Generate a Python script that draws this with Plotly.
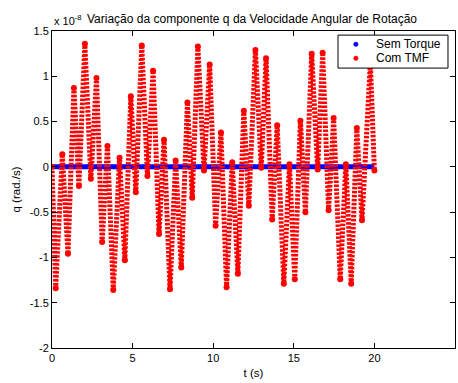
import plotly.graph_objects as go

# Extrema of the "Com TMF" series (time in s, q in 1e-8 rad/s)
t_tmf = [0.00, 0.23, 0.64, 0.99, 1.36, 1.67, 2.04, 2.41, 2.76, 3.11, 3.44, 3.80, 4.19, 4.52,
         4.89, 5.20, 5.57, 5.92, 6.27, 6.64, 6.95, 7.32, 7.67, 8.02, 8.40, 8.70, 9.05, 9.43,
         9.78, 10.15, 10.48, 10.83, 11.18, 11.53, 11.90, 12.21, 12.62, 12.98, 13.28, 13.66,
         13.97, 14.38, 14.73, 15.06, 15.41, 15.72, 16.11, 16.48, 16.79, 17.16, 17.47, 17.88,
         18.23, 18.56, 18.91, 19.23, 19.75, 20.00]
q_tmf = [0.00, -1.34, 0.14, -0.96, 0.87, -0.21, 1.36, -0.13, 0.98, -0.83, 0.23, -1.36, 0.10, -1.03,
         0.78, -0.28, 1.34, -0.10, 1.06, -0.74, 0.30, -1.35, 0.07, -1.11, 0.71, -0.34, 1.33, -0.04,
         1.13, -0.65, 0.38, -1.33, 0.05, -1.18, 0.62, -0.43, 1.29, -0.01, 1.20, -0.58,
         0.46, -1.29, 0.03, -1.24, 0.51, -0.50, 1.25, -0.03, 1.26, -0.48, 0.54, -1.24,
         0.03, -1.29, 0.43, -0.59, 1.15, -0.04]

# "Sem Torque" series (zero throughout)
t_sem = [0.0, 20.0]
q_sem = [0.0, 0.0]

series_names = ["Sem Torque", "Com TMF"]

x_ticks = [0, 5, 10, 15, 20, 25]
y_ticks = [-2, -1.5, -1, -0.5, 0, 0.5, 1, 1.5]
y_tick_text = ["-2", "-1.5", "-1", "-0.5", "0", "0.5", "1", "1.5"]

FONT = "Liberation Sans, Arial, Helvetica, sans-serif"
RED = "#ff0000"
BLUE = "#0000ff"

fig = go.Figure()

fig.add_trace(go.Scatter(
    x=t_sem, y=q_sem, mode="lines", name=series_names[0], showlegend=False,
    line=dict(color=BLUE, width=5), hoverinfo="skip"))

fig.add_trace(go.Scatter(
    x=t_tmf, y=q_tmf, mode="lines+markers", name=series_names[1], showlegend=False,
    line=dict(color=RED, width=5, dash="2.5px,1.5px"),
    marker=dict(color=RED, size=6, symbol="circle"), hoverinfo="skip"))

axis_common = dict(showline=True, linecolor="black", linewidth=1, mirror="ticks",
                   ticks="inside", ticklen=5, tickcolor="black", showgrid=False,
                   zeroline=False, tickfont=dict(family=FONT, size=11, color="black"))

# manual legend geometry (paper coordinates)
L = dict(x0=0.7097, x1=0.9826, y0=0.883, y1=0.987)
leg_rows = [0.958, 0.914]
leg_colors = [BLUE, RED]
mark_x = 0.754
text_x = 0.798

shapes = [dict(type="rect", xref="paper", yref="paper", x0=L["x0"], x1=L["x1"],
               y0=L["y0"], y1=L["y1"], line=dict(color="black", width=1),
               fillcolor="white", layer="above")]
annotations = [
    dict(text="x 10<sup>-8</sup>", xref="paper", yref="paper", x=0, y=1.0,
         xanchor="left", yanchor="bottom", yshift=2, showarrow=False,
         font=dict(family=FONT, size=11)),
    dict(text="Variação da componente q da Velocidade Angular de Rotação",
         xref="paper", yref="paper", x=0.496, y=1.0, xanchor="center", yanchor="bottom",
         yshift=3, showarrow=False, font=dict(family=FONT, size=12.0)),
]
for name, col, yy in zip(series_names, leg_colors, leg_rows):
    shapes.append(dict(type="circle", xref="paper", yref="paper", xsizemode="pixel",
                       ysizemode="pixel", xanchor=mark_x, yanchor=yy,
                       x0=-2.2, x1=2.2, y0=-2.2, y1=2.2,
                       fillcolor=col, line=dict(color=col, width=0.5), layer="above"))
    annotations.append(dict(text=name, xref="paper", yref="paper", x=text_x, y=yy,
                            xanchor="left", yanchor="middle", showarrow=False,
                            font=dict(family=FONT, size=12)))

fig.update_layout(
    width=458, height=383,
    margin=dict(l=52, r=3, t=31, b=35),
    paper_bgcolor="white", plot_bgcolor="white",
    font=dict(family=FONT, size=11, color="black"),
    showlegend=False,
    xaxis=dict(range=[0, 25], tickvals=x_ticks, **axis_common,
               title=dict(text="t (s)", font=dict(family=FONT, size=11.5), standoff=5)),
    yaxis=dict(range=[-2, 1.5], tickvals=y_ticks, ticktext=y_tick_text, **axis_common,
               title=dict(text="q (rad./s)", font=dict(family=FONT, size=11.5), standoff=6)),
    shapes=shapes,
    annotations=annotations,
)

fig.write_html("out.html")
